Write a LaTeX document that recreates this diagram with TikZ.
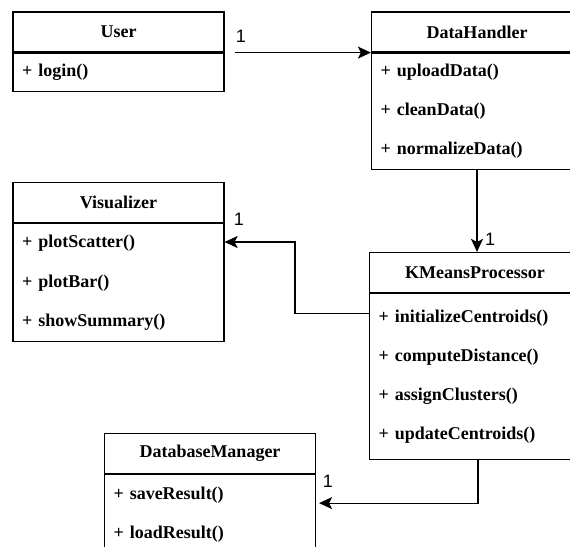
\documentclass[tikz,border=0pt]{standalone}
\usepackage{fontspec}
\setmainfont{LiberationSerif}[Extension=.ttf, UprightFont=*-Regular, BoldFont=*-Bold]
\newfontfamily\cardfont{Liberation Sans}
\usetikzlibrary{positioning,arrows.meta}

\begin{document}
\begin{tikzpicture}[x=1pt, y=-1pt, line width=1.2pt]
    \tikzstyle{every node}=[font=\fontsize{18}{39.3}\selectfont]
    \tikzstyle{head} = [rectangle, draw, minimum width=211pt, minimum height=40pt, font=\fontsize{18}{22}\selectfont\bfseries]
    \tikzstyle{ops} = [rectangle, draw, text width=193pt, inner xsep=9pt, align=left, font=\fontsize{18}{39.3}\selectfont\bfseries]
    \tikzstyle{assoc} = [-{Stealth[length=13pt, width=12pt, inset=3pt]}]
    \tikzstyle{card} = [inner sep=0pt, font=\cardfont\fontsize{18}{22}\selectfont]
    \useasboundingbox (0,0) rectangle (570,546);
    \clip (0,0) rectangle (570,546);
        % classes
        \node (user) [head] at (118.5,32) {User};
        \node (user-ops) [ops, below=0pt of user, minimum height=38pt] {+ login()};
        \node (dh) [head] at (477,32) {DataHandler};
        \node (dh-ops) [ops, below=0pt of dh, minimum height=116pt] {+ uploadData()\\+ cleanData()\\+ normalizeData()};
        \node (vis) [head] at (118.5,202.5) {Visualizer};
        \node (vis-ops) [ops, below=0pt of vis, minimum height=118pt] {+ plotScatter()\\+ plotBar()\\+ showSummary()};
        \node (km) [head] at (475,272.5) {KMeansProcessor};
        \node (km-ops) [ops, below=0pt of km, minimum height=166pt] {+ initializeCentroids()\\+ computeDistance()\\+ assignClusters()\\+ updateCentroids()};
        \node (dbm) [head] at (210,453.5) {DatabaseManager};
        \node (dbm-ops) [ops, below=0pt of dbm, minimum height=80pt] {+ saveResult()\\+ loadResult()};
        % associations
        \draw [assoc] ([xshift=10pt]user.south east) -- (dh.south west);
        \draw [assoc] (dh-ops.south) -- (dh-ops.south |- km.north);
        \draw [assoc] ([yshift=-20pt]km-ops.north west) -- ++(-74,0) |- (vis-ops.north east |- 0,242);
        \draw [assoc] ([xshift=3pt]km-ops.south) |- ([xshift=3pt, yshift=-29pt]dbm-ops.north east);
        % multiplicities
        \node (card-dh) [card] at (241,36) {1};
        \node (card-km) [card] at (490,239) {1};
        \node (card-vis) [card] at (239,219) {1};
        \node (card-dbm) [card] at (328,481) {1};
\end{tikzpicture}
\end{document}
